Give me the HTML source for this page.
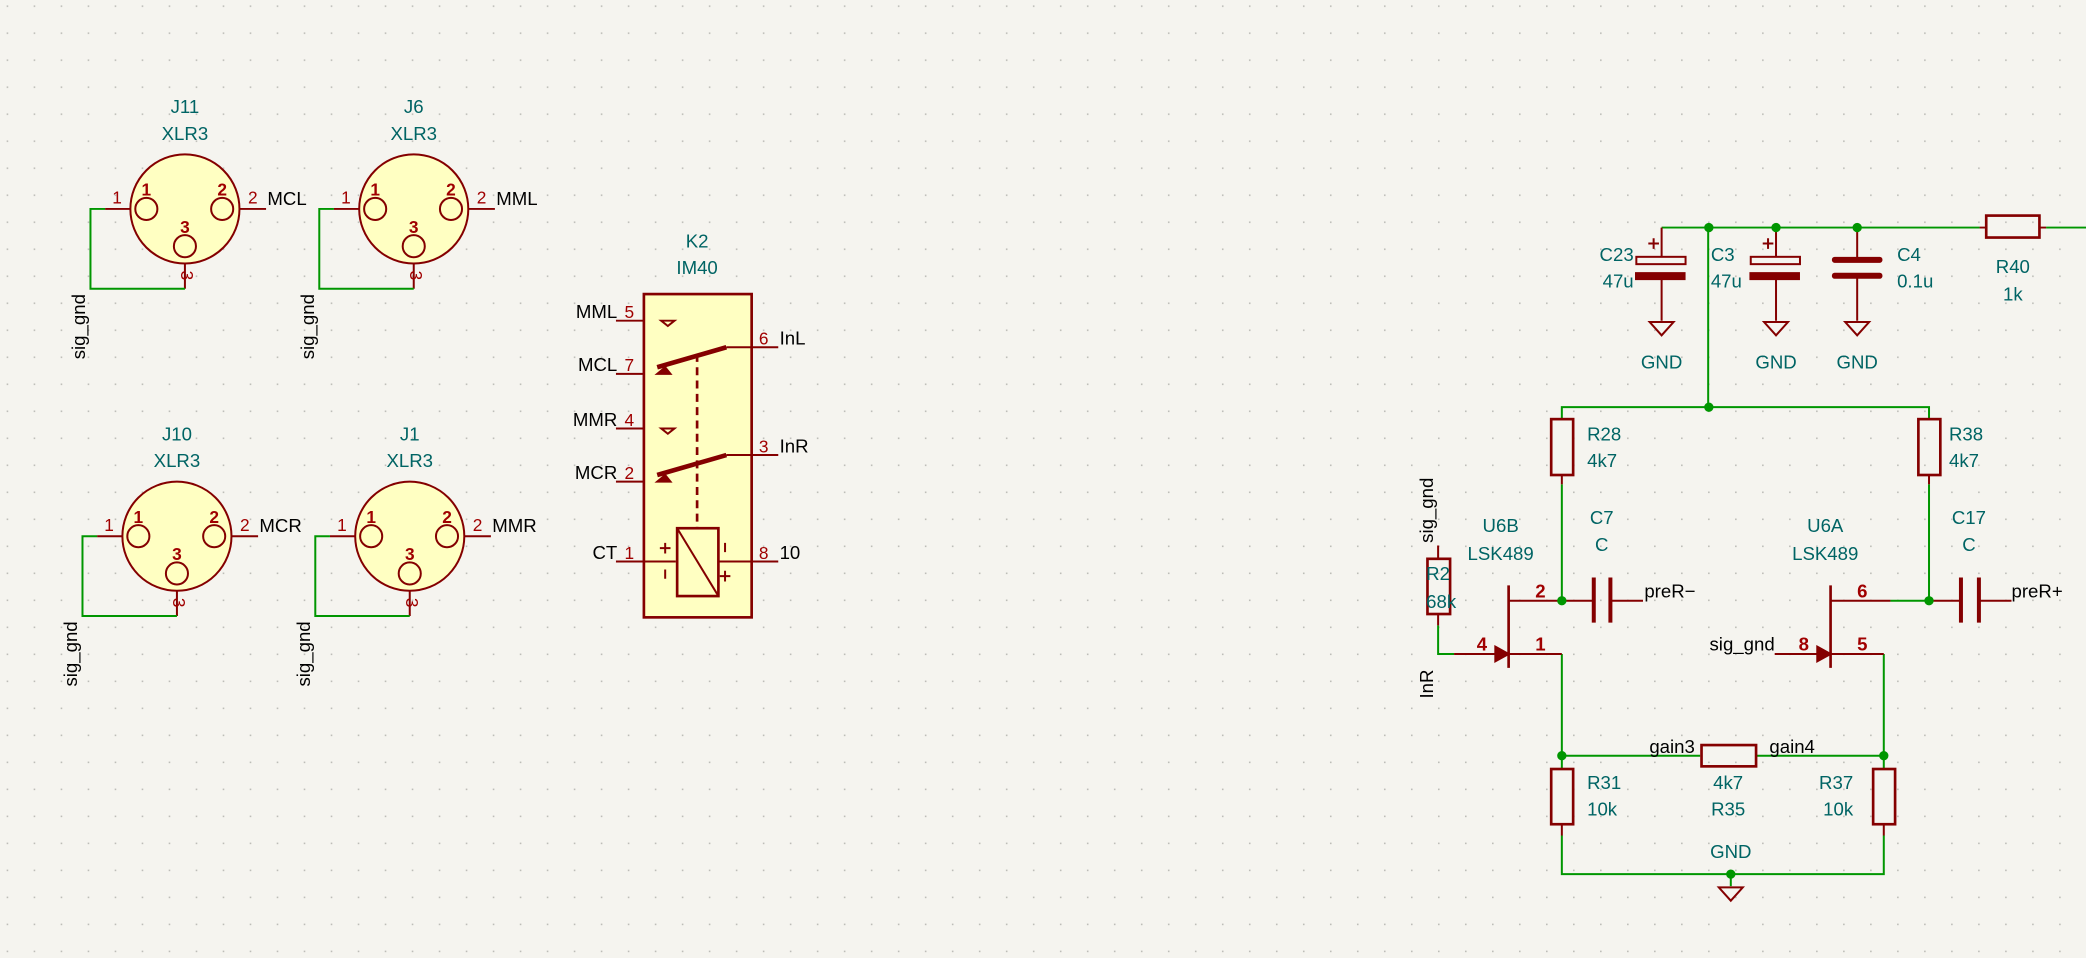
<!DOCTYPE html>
<html><head><meta charset="utf-8"><style>
html,body{margin:0;padding:0;background:#f5f4ef;}
svg{display:block}
text{font-family:"Liberation Sans",sans-serif;font-size:14px}
.t{fill:#006464}.k{fill:#000}.r{fill:#a00000;font-size:13px}
.b{font-weight:bold}
</style></head><body>
<svg width="2086" height="958" viewBox="0 0 1568 720" xmlns="http://www.w3.org/2000/svg">
<defs>
<pattern id="g" width="20.3" height="20.3" patternUnits="userSpaceOnUse" x="5" y="4">
<rect x="0" y="0" width="1.2" height="1.2" fill="#bdbdb8"/></pattern>
</defs>
<rect width="1568" height="720" fill="#f5f4ef"/>
<rect width="1568" height="720" fill="url(#g)"/>

<g transform="translate(139,157)" stroke-width="1.5">
<circle r="41" fill="#ffffc2" stroke="#840000"/>
<g fill="none" stroke="#840000"><circle cx="-29" cy="0" r="8.3"/><circle cx="28" cy="0" r="8.3"/><circle cx="0" cy="28" r="8.3"/>
<path d="M-41 0H-60M41 0H61M0 41V60"/></g>
<path d="M-60 0H-71V60H0" fill="none" stroke="#009600"/>
<text x="-29" y="-10" class="r b" text-anchor="middle">1</text><text x="28" y="-10" class="r b" text-anchor="middle">2</text><text x="0" y="18" class="r b" text-anchor="middle">3</text>
<text x="-51" y="-4" class="r" text-anchor="middle">1</text><text x="51" y="-4" class="r" text-anchor="middle">2</text>
<text transform="translate(-3,50) rotate(90)" class="r" text-anchor="middle">3</text>
<text x="0" y="-72" class="t" text-anchor="middle">J11</text><text x="0" y="-52" class="t" text-anchor="middle">XLR3</text>
<text x="62" y="-3" class="k">MCL</text>
<text transform="translate(-71,64) rotate(-90)" dy="-4" class="k" text-anchor="end">sig_gnd</text>
</g>
<g transform="translate(311,157)" stroke-width="1.5">
<circle r="41" fill="#ffffc2" stroke="#840000"/>
<g fill="none" stroke="#840000"><circle cx="-29" cy="0" r="8.3"/><circle cx="28" cy="0" r="8.3"/><circle cx="0" cy="28" r="8.3"/>
<path d="M-41 0H-60M41 0H61M0 41V60"/></g>
<path d="M-60 0H-71V60H0" fill="none" stroke="#009600"/>
<text x="-29" y="-10" class="r b" text-anchor="middle">1</text><text x="28" y="-10" class="r b" text-anchor="middle">2</text><text x="0" y="18" class="r b" text-anchor="middle">3</text>
<text x="-51" y="-4" class="r" text-anchor="middle">1</text><text x="51" y="-4" class="r" text-anchor="middle">2</text>
<text transform="translate(-3,50) rotate(90)" class="r" text-anchor="middle">3</text>
<text x="0" y="-72" class="t" text-anchor="middle">J6</text><text x="0" y="-52" class="t" text-anchor="middle">XLR3</text>
<text x="62" y="-3" class="k">MML</text>
<text transform="translate(-71,64) rotate(-90)" dy="-4" class="k" text-anchor="end">sig_gnd</text>
</g>
<g transform="translate(133,403)" stroke-width="1.5">
<circle r="41" fill="#ffffc2" stroke="#840000"/>
<g fill="none" stroke="#840000"><circle cx="-29" cy="0" r="8.3"/><circle cx="28" cy="0" r="8.3"/><circle cx="0" cy="28" r="8.3"/>
<path d="M-41 0H-60M41 0H61M0 41V60"/></g>
<path d="M-60 0H-71V60H0" fill="none" stroke="#009600"/>
<text x="-29" y="-10" class="r b" text-anchor="middle">1</text><text x="28" y="-10" class="r b" text-anchor="middle">2</text><text x="0" y="18" class="r b" text-anchor="middle">3</text>
<text x="-51" y="-4" class="r" text-anchor="middle">1</text><text x="51" y="-4" class="r" text-anchor="middle">2</text>
<text transform="translate(-3,50) rotate(90)" class="r" text-anchor="middle">3</text>
<text x="0" y="-72" class="t" text-anchor="middle">J10</text><text x="0" y="-52" class="t" text-anchor="middle">XLR3</text>
<text x="62" y="-3" class="k">MCR</text>
<text transform="translate(-71,64) rotate(-90)" dy="-4" class="k" text-anchor="end">sig_gnd</text>
</g>
<g transform="translate(308,403)" stroke-width="1.5">
<circle r="41" fill="#ffffc2" stroke="#840000"/>
<g fill="none" stroke="#840000"><circle cx="-29" cy="0" r="8.3"/><circle cx="28" cy="0" r="8.3"/><circle cx="0" cy="28" r="8.3"/>
<path d="M-41 0H-60M41 0H61M0 41V60"/></g>
<path d="M-60 0H-71V60H0" fill="none" stroke="#009600"/>
<text x="-29" y="-10" class="r b" text-anchor="middle">1</text><text x="28" y="-10" class="r b" text-anchor="middle">2</text><text x="0" y="18" class="r b" text-anchor="middle">3</text>
<text x="-51" y="-4" class="r" text-anchor="middle">1</text><text x="51" y="-4" class="r" text-anchor="middle">2</text>
<text transform="translate(-3,50) rotate(90)" class="r" text-anchor="middle">3</text>
<text x="0" y="-72" class="t" text-anchor="middle">J1</text><text x="0" y="-52" class="t" text-anchor="middle">XLR3</text>
<text x="62" y="-3" class="k">MMR</text>
<text transform="translate(-71,64) rotate(-90)" dy="-4" class="k" text-anchor="end">sig_gnd</text>
</g>

<!-- K2 -->
<g stroke="#840000" stroke-width="1.5" fill="none">
<rect x="484" y="221" width="81" height="243" fill="#ffffc2" stroke-width="2"/>
<path d="M463 241H484M463 281H484M463 322H484M463 362H484M463 422H508M540 422H585M546 261H585M546 342H585"/>
<path d="M494 276L546 261M494 357L546 342" stroke-width="3.5"/>
<path d="M494 281L500 276L504 281Z M494 362L500 357L504 362Z" fill="#840000"/>
<path d="M497 241L502 245L507 241ZM497 322L502 326L507 322Z"/>
<path d="M524 266V397" stroke-dasharray="6,4" stroke-width="2"/>
<rect x="509" y="397" width="31" height="51" stroke-width="2"/>
<path d="M509 397L540 448"/>
<path d="M496 412h8M500 408v8M500 428v7M545 408v7M541 433h8M545 429v8"/>
</g>
<text x="524" y="186" class="t" text-anchor="middle">K2</text>
<text x="524" y="206" class="t" text-anchor="middle">IM40</text>
<text x="464" y="239" class="k" text-anchor="end">MML</text><text x="473" y="239" class="r" text-anchor="middle">5</text>
<text x="464" y="279" class="k" text-anchor="end">MCL</text><text x="473" y="279" class="r" text-anchor="middle">7</text>
<text x="464" y="320" class="k" text-anchor="end">MMR</text><text x="473" y="320" class="r" text-anchor="middle">4</text>
<text x="464" y="360" class="k" text-anchor="end">MCR</text><text x="473" y="360" class="r" text-anchor="middle">2</text>
<text x="464" y="420" class="k" text-anchor="end">CT</text><text x="473" y="420" class="r" text-anchor="middle">1</text>
<text x="574" y="259" class="r" text-anchor="middle">6</text><text x="586" y="259" class="k">InL</text>
<text x="574" y="340" class="r" text-anchor="middle">3</text><text x="586" y="340" class="k">InR</text>
<text x="574" y="420" class="r" text-anchor="middle">8</text><text x="586" y="420" class="k">10</text>

<!-- right circuit wires -->
<g stroke="#009600" stroke-width="1.5" fill="none">
<path d="M1249 171H1488M1538 171H1568"/>
<path d="M1284 171V306M1174 315V306H1450V315"/>
<path d="M1174 364V451.5M1450 364V451.5H1421"/>
<path d="M1081 470V491.5H1093"/>
<path d="M1174 491.5V578M1416 491.5V578M1174 568H1278M1320 568H1416"/>
<path d="M1174 628V657H1416V628M1301 657V666"/>
</g>
<g stroke="#840000" stroke-width="1.5" fill="none">
<path d="M1249 171V193M1249 210V241M1335 171V193M1335 210V241M1396 171V195M1396 207V241"/>
<rect x="1230" y="193" width="37" height="5.5"/><rect x="1316" y="193" width="37" height="5.5"/>
<path d="M1239 183h8M1243 179v8M1325 183h8M1329 179v8"/>
<path d="M1240 242L1258 242L1249 252ZM1326 242L1344 242L1335 252ZM1387 242L1405 242L1396 252ZM1292 667L1310 667L1301 677Z"/>
<rect x="1493" y="162" width="40" height="16.5" stroke-width="2"/>
<path d="M1488 171H1493M1533 171H1538"/>
<rect x="1166" y="315" width="16.5" height="42" stroke-width="2"/><path d="M1174 357V364"/>
<rect x="1442" y="315" width="16.5" height="42" stroke-width="2"/><path d="M1450 357V364"/>
<rect x="1073" y="420" width="17" height="41.5" stroke-width="2"/><path d="M1081 410V420M1081 461V470"/>
<rect x="1279" y="560" width="41" height="16" stroke-width="2"/>
<rect x="1166" y="578" width="16.5" height="41.5" stroke-width="2"/><path d="M1174 620V628"/>
<rect x="1408" y="578" width="16.5" height="41.5" stroke-width="2"/><path d="M1416 620V628"/>
<path d="M1134 440V502" stroke-width="2"/><path d="M1134 451.5H1174M1134 491.5H1174M1093 491.5H1134"/>
<path d="M1124 486L1134 491.5L1124 497Z" fill="#840000"/>
<path d="M1376 440V502" stroke-width="2"/><path d="M1376 451.5H1421M1376 491.5H1416M1334 491.5H1376"/>
<path d="M1366 486L1376 491.5L1366 497Z" fill="#840000"/>
<path d="M1174 451.5H1198M1210.5 451.5H1235M1450 451.5H1474M1487.5 451.5H1512"/>
<path d="M1198 434V468M1210.5 434V468M1474 434V468M1487.5 434V468" stroke-width="3"/>
</g>
<g fill="#840000"><rect x="1229" y="204.5" width="38" height="6"/><rect x="1315" y="204.5" width="38" height="6"/>
<rect x="1377" y="193" width="38" height="4.5" rx="2"/><rect x="1377" y="205" width="38" height="4.5" rx="2"/></g>
<g fill="#009600"><circle cx="1284.5" cy="171" r="3.5"/><circle cx="1335" cy="171" r="3.5"/><circle cx="1396" cy="171" r="3.5"/>
<circle cx="1284.5" cy="306" r="3.5"/><circle cx="1174" cy="451.5" r="3.5"/><circle cx="1450" cy="451.5" r="3.5"/>
<circle cx="1174" cy="568" r="3.5"/><circle cx="1416" cy="568" r="3.5"/><circle cx="1301" cy="657" r="3.5"/></g>

<g class="t">
<text x="1228" y="196" text-anchor="end">C23</text><text x="1228" y="216" text-anchor="end">47u</text>
<text x="1286" y="196">C3</text><text x="1286" y="216">47u</text>
<text x="1426" y="196">C4</text><text x="1426" y="216">0.1u</text>
<text x="1513" y="205" text-anchor="middle">R40</text><text x="1513" y="226" text-anchor="middle">1k</text>
<text x="1249" y="277" text-anchor="middle">GND</text><text x="1335" y="277" text-anchor="middle">GND</text><text x="1396" y="277" text-anchor="middle">GND</text>
<text x="1193" y="331">R28</text><text x="1193" y="351">4k7</text>
<text x="1465" y="331">R38</text><text x="1465" y="351">4k7</text>
<text x="1204" y="394" text-anchor="middle">C7</text><text x="1204" y="414" text-anchor="middle">C</text>
<text x="1480" y="394" text-anchor="middle">C17</text><text x="1480" y="414" text-anchor="middle">C</text>
<text x="1128" y="400" text-anchor="middle">U6B</text><text x="1128" y="421" text-anchor="middle">LSK489</text>
<text x="1372" y="400" text-anchor="middle">U6A</text><text x="1372" y="421" text-anchor="middle">LSK489</text>
<text x="1072" y="436">R2</text><text x="1072" y="457">68k</text>
<text x="1193" y="593">R31</text><text x="1193" y="613">10k</text>
<text x="1299" y="593" text-anchor="middle">4k7</text><text x="1299" y="613" text-anchor="middle">R35</text>
<text x="1393" y="593" text-anchor="end">R37</text><text x="1393" y="613" text-anchor="end">10k</text>
<text x="1301" y="645" text-anchor="middle">GND</text>
</g>
<g class="r b">
<text x="1154" y="449">2</text><text x="1154" y="489">1</text><text x="1110" y="489">4</text>
<text x="1396" y="449">6</text><text x="1396" y="489">5</text><text x="1352" y="489">8</text>
</g>
<g class="k">
<text x="1236" y="449">preR−</text><text x="1512" y="449">preR+</text>
<text x="1334" y="489" text-anchor="end">sig_gnd</text>
<text x="1274" y="566" text-anchor="end">gain3</text><text x="1330" y="566">gain4</text>
<text transform="translate(1081,408) rotate(-90)" dy="-4" text-anchor="start">sig_gnd</text>
<text transform="translate(1081,525) rotate(-90)" dy="-4" text-anchor="start">InR</text>
</g>
</svg>
</body></html>
